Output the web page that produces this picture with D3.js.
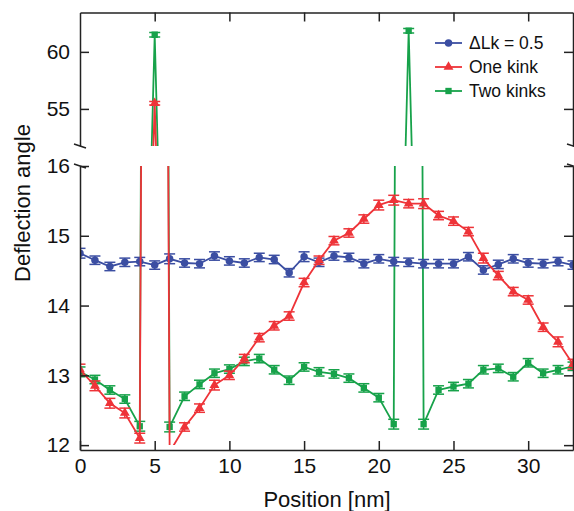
<!DOCTYPE html>
<html>
<head>
<meta charset="utf-8">
<script src="https://cdn.jsdelivr.net/npm/d3@7"></script>
<style>
  body { margin: 0; background: #fff; }
  text { font-family: "Liberation Sans", Arial, sans-serif; fill: #111; }
</style>
</head>
<body>
<div id="chart"></div>
<script>
// positions along the helix (nm)
const positions = [0,1,2,3,4,5,6,7,8,9,10,11,12,13,14,15,16,17,18,19,20,21,22,23,24,25,26,27,28,29,30,31,32,33];

// deflection angles
const lk05 = [14.75,14.65,14.56,14.62,14.63,14.58,14.67,14.61,14.60,14.71,14.64,14.61,14.69,14.66,14.47,
  14.70,14.62,14.71,14.69,14.60,14.67,14.63,14.62,14.60,14.60,14.60,14.70,14.51,14.59,14.67,14.61,14.60,14.63,14.58];
const lk05Err = [0.07,0.06,0.06,0.06,0.06,0.06,0.07,0.06,0.06,0.06,0.06,0.06,0.06,0.06,0.06,
  0.07,0.06,0.06,0.06,0.06,0.06,0.06,0.06,0.06,0.06,0.06,0.06,0.06,0.06,0.06,0.06,0.06,0.06,0.06];

const oneKink = [13.08,12.85,12.60,12.46,12.10,55.5,11.9,12.26,12.53,12.86,13.00,13.24,13.54,13.71,13.85,
  14.33,14.65,14.93,15.04,15.24,15.44,15.51,15.46,15.46,15.29,15.21,15.06,14.68,14.43,14.20,14.08,13.69,13.48,13.16];
const oneKinkErr = [0.08,0.07,0.07,0.07,0.07,0.15,0.07,0.06,0.06,0.07,0.06,0.06,0.06,0.06,0.06,
  0.06,0.06,0.06,0.06,0.06,0.07,0.07,0.06,0.07,0.06,0.06,0.06,0.07,0.06,0.06,0.06,0.06,0.07,0.07];

const twoKinks = [13.05,12.94,12.79,12.66,12.27,61.5,12.26,12.70,12.87,13.03,13.09,13.20,13.24,13.08,12.93,
  13.12,13.05,13.02,12.96,12.82,12.68,12.30,61.85,12.30,12.79,12.84,12.88,13.08,13.10,12.98,13.18,13.03,13.08,13.13];
const twoKinksErr = [0.07,0.06,0.06,0.06,0.07,0.2,0.07,0.06,0.06,0.06,0.06,0.06,0.06,0.06,0.06,
  0.06,0.06,0.06,0.06,0.06,0.06,0.07,0.2,0.07,0.06,0.06,0.06,0.06,0.06,0.06,0.06,0.06,0.06,0.06];

const seriesNames = ["\u0394Lk = 0.5", "One kink", "Two kinks"];
const seriesColors = ["#3b4ea2", "#ee3338", "#17a24a"];
const seriesShapes = ["circle", "triangle", "square"];

const xTicks = [0,5,10,15,20,25,30];
const yTopTicks = [55,60];
const yBotTicks = [12,13,14,15,16];

const width = 574, height = 511;

const svg = d3.select("#chart")
  .append("svg")
    .attr("width", width)
    .attr("height", height);

// scales: one x, two y panels (broken axis)
const x = d3.scaleLinear().domain([0, 33]).range([80, 573]);
const yTop = d3.scaleLinear().domain([51.75, 63.45]).range([146, 12.5]);
const yBot = d3.scaleLinear().domain([11.93, 16]).range([450, 166]);

const series = seriesNames.map((name, i) => ({
  name: name,
  color: seriesColors[i],
  shape: seriesShapes[i],
  values: [lk05, oneKink, twoKinks][i].map((v, j) => ({x: positions[j], y: v, e: [lk05Err, oneKinkErr, twoKinksErr][i][j]}))
}));
// green under blue under red
const drawOrder = [series[2], series[0], series[1]];

const defs = svg.append("defs");
defs.append("clipPath").attr("id", "clipTop")
  .append("rect").attr("x", 80).attr("y", 12.5).attr("width", 495).attr("height", 146 - 12.5);
defs.append("clipPath").attr("id", "clipBot")
  .append("rect").attr("x", 80).attr("y", 166).attr("width", 495).attr("height", yBot(12) - 166);

const symbolFor = {
  circle: d3.symbol().type(d3.symbolCircle).size(44),
  triangle: d3.symbol().type(d3.symbolTriangle).size(42),
  square: d3.symbol().type(d3.symbolSquare).size(40)
};

function drawPanel(y, clipId) {
  const g = svg.append("g").attr("clip-path", `url(#${clipId})`);
  const line = d3.line().x(d => x(d.x)).y(d => y(d.y));

  drawOrder.forEach(s => {
    const sg = g.append("g");
    sg.append("path")
      .datum(s.values)
      .attr("fill", "none")
      .attr("stroke", s.color)
      .attr("stroke-width", 1.8)
      .attr("d", line);

    // error bars
    const eb = sg.selectAll(".eb").data(s.values).join("g")
      .attr("stroke", s.color).attr("stroke-width", 1.5);
    eb.append("line")
      .attr("x1", d => x(d.x)).attr("x2", d => x(d.x))
      .attr("y1", d => y(d.y - d.e)).attr("y2", d => y(d.y + d.e));
    eb.append("line")
      .attr("x1", d => x(d.x) - 5.5).attr("x2", d => x(d.x) + 5.5)
      .attr("y1", d => y(d.y - d.e)).attr("y2", d => y(d.y - d.e));
    eb.append("line")
      .attr("x1", d => x(d.x) - 5.5).attr("x2", d => x(d.x) + 5.5)
      .attr("y1", d => y(d.y + d.e)).attr("y2", d => y(d.y + d.e));

    sg.selectAll(".mk").data(s.values).join("path")
      .attr("transform", d => `translate(${x(d.x)},${y(d.y)})`)
      .attr("d", symbolFor[s.shape])
      .attr("fill", s.color);
  });
}

drawPanel(yTop, "clipTop");
drawPanel(yBot, "clipBot");

// axes
function styleAxis(g) {
  g.selectAll("path, line").attr("stroke", "#222").attr("stroke-width", 1.5);
  g.selectAll("text").style("font-size", "21px").attr("fill", "#111");
}
const fmt = d3.format("d");

svg.append("g")
  .attr("transform", "translate(0,450)")
  .call(d3.axisBottom(x).tickValues(xTicks).tickFormat(fmt).tickSize(-9).tickSizeOuter(0).tickPadding(8))
  .call(styleAxis);

svg.append("g")
  .attr("transform", "translate(0,12.5)")
  .call(d3.axisTop(x).tickValues(xTicks.slice(1)).tickSize(-9).tickSizeOuter(0).tickFormat(""))
  .call(styleAxis);

svg.append("g")
  .attr("transform", "translate(80,0)")
  .call(d3.axisLeft(yTop).tickValues(yTopTicks).tickFormat(fmt).tickSize(-9).tickSizeOuter(0).tickPadding(10))
  .call(styleAxis);

svg.append("g")
  .attr("transform", "translate(80,0)")
  .call(d3.axisLeft(yBot).tickValues(yBotTicks).tickFormat(fmt).tickSize(-9).tickSizeOuter(0).tickPadding(10))
  .call(styleAxis);

svg.append("g")
  .attr("transform", "translate(573,0)")
  .call(d3.axisRight(yTop).tickValues(yTopTicks).tickSize(-9).tickSizeOuter(0).tickFormat(""))
  .call(styleAxis);

svg.append("g")
  .attr("transform", "translate(573,0)")
  .call(d3.axisRight(yBot).tickValues(yBotTicks).tickSize(-9).tickSizeOuter(0).tickFormat(""))
  .call(styleAxis);

// break marks on both vertical axes
[80, 573].forEach(ax => {
  [146, 166].forEach(by => {
    svg.append("line")
      .attr("x1", ax - 6).attr("y1", by - 2)
      .attr("x2", ax + 6).attr("y2", by + 2)
      .attr("stroke", "#222").attr("stroke-width", 1.5);
  });
});

// axis titles
svg.append("text")
  .attr("x", 327).attr("y", 507)
  .attr("text-anchor", "middle")
  .style("font-size", "22px")
  .text("Position [nm]");

svg.append("text")
  .attr("transform", "translate(30,203) rotate(-90)")
  .attr("text-anchor", "middle")
  .style("font-size", "22px")
  .text("Deflection angle");

// legend
const legend = svg.append("g");
series.forEach((s, i) => {
  const ly = 43 + i * 24;
  legend.append("line")
    .attr("x1", 435).attr("x2", 462).attr("y1", ly).attr("y2", ly)
    .attr("stroke", s.color).attr("stroke-width", 1.8);
  legend.append("path")
    .attr("transform", `translate(448.5,${ly})`)
    .attr("d", symbolFor[s.shape])
    .attr("fill", s.color);
  legend.append("text")
    .attr("x", 469).attr("y", ly + 6)
    .style("font-size", "17.5px")
    .text(s.name);
});
</script>
</body>
</html>
